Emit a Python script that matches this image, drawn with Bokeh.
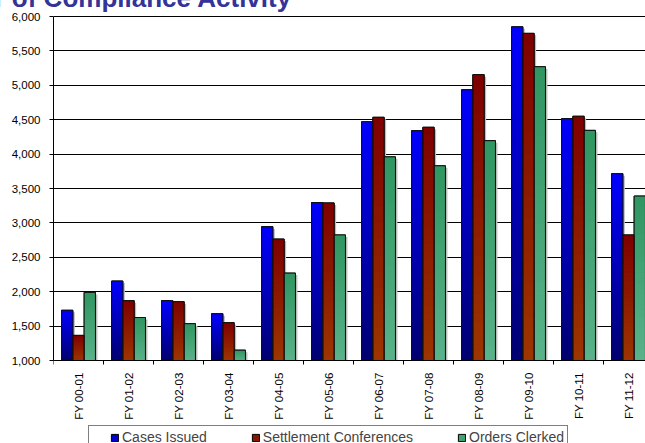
import math
import numpy as np
from bokeh.plotting import figure
from bokeh.models import (Range1d, FixedTicker, NumeralTickFormatter, Legend, LegendItem, Title)
from bokeh.embed import file_html
from bokeh.resources import INLINE

# ---------------- data ----------------
categories = ["FY 00-01", "FY 01-02", "FY 02-03", "FY 03-04", "FY 04-05", "FY 05-06",
              "FY 06-07", "FY 07-08", "FY 08-09", "FY 09-10", "FY 10-11", "FY 11-12"]
cases_issued = [1730, 2155, 1870, 1680, 2945, 3295, 4470, 4340, 4935, 5850, 4515, 3715]
settlement_conferences = [1365, 1870, 1855, 1550, 2765, 3290, 4535, 4390, 5155, 5755, 4550, 2825]
orders_clerked = [1990, 1625, 1535, 1150, 2270, 2825, 3960, 3830, 4195, 5270, 4345, 3390]
series_names = ["Cases Issued", "Settlement Conferences", "Orders Clerked"]
y_ticks = [1000, 1500, 2000, 2500, 3000, 3500, 4000, 4500, 5000, 5500, 6000]
title_text = "r of Compliance Activity"

# ---------------- style ----------------
FONT = "Liberation Sans"
Y_MIN, Y_MAX = 1000, 6000
W, H = 645, 443
LEFT = 53
TOP_PX, AXIS_PX = 16, 360          # pixel rows of the 6,000 and 1,000 lines
CAT_PX = 50.0
x_end = (W - LEFT) / CAT_PX
upp = (Y_MAX - Y_MIN) / (AXIS_PX - TOP_PX)
y_start = Y_MIN - (H - AXIS_PX) * upp
y_end = Y_MAX + TOP_PX * upp
BAR_W = 0.226
grad = [("#0000FF", "#000070"), ("#7E0000", "#9C3600"), ("#2F9661", "#5AB28A")]
legend_cols = ["#0000D0", "#8A1800", "#3FA271"]
N_SLICES = 30


def hex2rgb(h):
    h = h.lstrip("#")
    return np.array([int(h[i:i + 2], 16) for i in (0, 2, 4)], dtype=float)


def mix(c_top, c_bot, t):
    a, b = hex2rgb(c_top), hex2rgb(c_bot)
    c = b + (a - b) * t
    return "#%02x%02x%02x" % tuple(int(round(v)) for v in c)


title = Title(text=title_text, align="left", vertical_align="top", offset=-59,
              standoff=-35, text_font=FONT, text_font_size="26px",
              text_font_style="bold", text_color="#333399")

p = figure(width=W, height=H, output_backend="svg", toolbar_location=None,
           x_range=Range1d(0, x_end), y_range=Range1d(y_start, y_end),
           min_border_left=LEFT, min_border_right=0, min_border_top=0,
           min_border_bottom=0, background_fill_color="white",
           border_fill_color="white", outline_line_color=None, title=title)

series = [cases_issued, settlement_conferences, orders_clerked]
centers = np.arange(len(categories)) + 0.5
offsets = [-BAR_W, 0.0, BAR_W]
dx_sh = 2.0 / CAT_PX
dy_sh = 2.0 * upp

# shadows
for vals, off in zip(series, offsets):
    v = np.array(vals, dtype=float)
    l = centers + off - BAR_W / 2 + dx_sh
    p.quad(left=l, right=l + BAR_W, bottom=np.full_like(v, Y_MIN), top=v - dy_sh,
           fill_color="#BDBDBD", line_color=None)

# base bars (also used for the legend swatches)
base_r = []
for vals, off, col in zip(series, offsets, legend_cols):
    v = np.array(vals, dtype=float)
    base_r.append(p.quad(left=centers + off - BAR_W / 2, right=centers + off + BAR_W / 2,
                         bottom=np.full_like(v, Y_MIN), top=v, fill_color=col,
                         line_color="#000000", line_width=1))

# gradient fill
for vals, off, (ct, cb) in zip(series, offsets, grad):
    L, R, B, T, C = [], [], [], [], []
    for cx, val in zip(centers, vals):
        edges = np.linspace(Y_MIN, val, N_SLICES + 1)
        step = (val - Y_MIN) / N_SLICES
        for k in range(N_SLICES):
            t = (k + 0.5) / N_SLICES
            L.append(cx + off - BAR_W / 2)
            R.append(cx + off + BAR_W / 2)
            B.append(edges[k])
            T.append(edges[k + 1] + (0 if k == N_SLICES - 1 else 0.5 * step))
            C.append(mix(ct, cb, t))
    p.quad(left=L, right=R, bottom=B, top=T, fill_color=C, line_color=None)

# outlines
for vals, off in zip(series, offsets):
    v = np.array(vals, dtype=float)
    p.quad(left=centers + off - BAR_W / 2, right=centers + off + BAR_W / 2,
           bottom=np.full_like(v, Y_MIN), top=v, fill_color=None,
           line_color="#101010", line_width=1)

# x axis pinned at the 1,000 line
xa = p.xaxis[0]
xa.fixed_location = Y_MIN
xa.ticker = FixedTicker(ticks=list(centers), minor_ticks=list(np.arange(0, 13)))
xa.major_label_overrides = {float(c): lab for c, lab in zip(centers, categories)}
xa.major_label_orientation = math.pi / 2
xa.major_tick_out = 0
xa.major_tick_in = 0
xa.minor_tick_out = 4
xa.minor_tick_in = 0
xa.major_label_standoff = 8
xa.axis_line_color = "black"
xa.minor_tick_line_color = "black"

ya = p.yaxis[0]
ya.ticker = FixedTicker(ticks=y_ticks, minor_ticks=[])
ya.formatter = NumeralTickFormatter(format="0,0")
ya.bounds = (Y_MIN, Y_MAX)
ya.major_tick_out = 4
ya.major_tick_in = 0
ya.major_label_standoff = 9
ya.axis_line_color = "black"
ya.major_tick_line_color = "black"

for ax in (xa, ya):
    ax.major_label_text_font = FONT
    ax.major_label_text_font_size = "11.5px"
    ax.major_label_text_color = "black"

p.xgrid.grid_line_color = None
p.ygrid.ticker = FixedTicker(ticks=y_ticks)
p.ygrid.grid_line_color = "black"
p.ygrid.grid_line_width = 1

# series legend, bottom edge
legend = Legend(items=[LegendItem(label=n, renderers=[r]) for n, r in zip(series_names, base_r)],
                orientation="horizontal", location=(35, -6),
                label_text_font=FONT, label_text_font_size="14px", label_height=16,
                glyph_width=9, glyph_height=9, label_standoff=3, spacing=44,
                padding=3, margin=0, border_line_color="black", border_line_width=1,
                background_fill_color="white", background_fill_alpha=1,
                title=" ", title_location="left", title_text_font_size="1px",
                title_standoff=17)
p.add_layout(legend, "center")

open("out.html", "w").write(file_html(p, INLINE))
